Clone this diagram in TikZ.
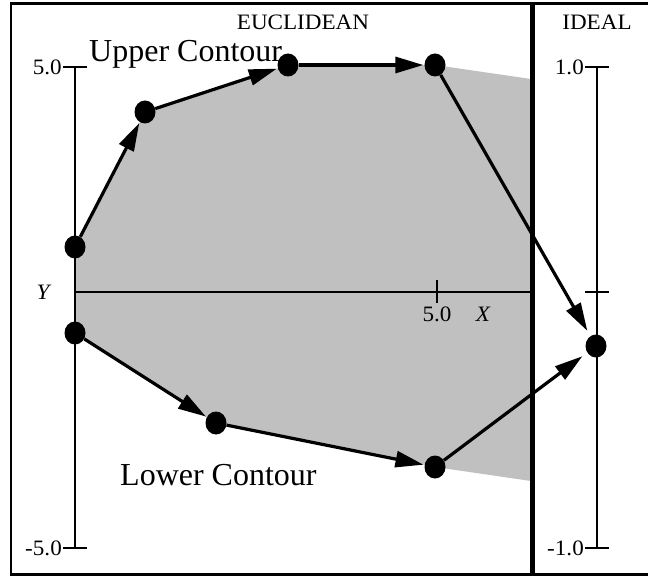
\documentclass[tikz,border=0pt]{standalone}
\usepackage{fontspec}
\setmainfont{Liberation Serif}
\newfontfamily\widefnt[FakeStretch=1.05]{Liberation Serif}
\usetikzlibrary{shapes.geometric,arrows.meta}
\definecolor{regiongray}{RGB}{192,192,192}
\tikzset{
  dot/.style={ellipse,fill=black,minimum width=21pt,minimum height=23pt,inner sep=0pt},
  axis/.style={line width=2pt},
  arr/.style={line width=3.2pt,-{Triangle[length=28pt,width=16pt]},shorten >=1pt},
  lbl/.style={font=\widefnt\fontsize{22}{25}\selectfont,inner sep=0pt},
  big/.style={font=\fontsize{32}{36}\selectfont,inner sep=0pt,anchor=base west},
}
\begin{document}
\begin{tikzpicture}[x=1pt,y=-1pt]
\useasboundingbox (0,0) rectangle (648,580);
% gray region
\fill[regiongray] (75,247) -- (145,112) -- (288,65) -- (435,65) -- (531,79) -- (531,481) -- (435,467) -- (215,423) -- (75,333) -- cycle;
% frame and divider
\draw[line width=2.5pt] (650,3.5) -- (11,3.5) -- (11,574.5) -- (650,574.5);
\draw[line width=5pt] (532,3) -- (532,575);
% axes
\draw[axis] (75,67) -- (75,548);
\draw[axis] (63,67) -- (87,67);
\draw[axis] (63,548) -- (87,548);
\draw[axis] (75,292) -- (532,292);
\draw[axis] (437,280) -- (437,303);
\draw[axis] (597,67) -- (597,548);
\draw[axis] (585,67) -- (609,67);
\draw[axis] (585,292) -- (609,292);
\draw[axis] (585,548) -- (609,548);
% labels
\node[lbl] (t1) at (303,22) {EUCLIDEAN};
\node[lbl] (t2) at (597,22) {IDEAL};
\node[big] (t3) at (89,62) {Upper Contour};
\node[big] (t4) at (120,485) {Lower Contour};
\node[lbl,anchor=east] (a1) at (62,67) {5.0};
\node[lbl,anchor=east] (a2) at (62,548) {-5.0};
\node[lbl,anchor=east] (a3) at (584,67) {1.0};
\node[lbl,anchor=east] (a4) at (584,548) {-1.0};
\node[lbl] (ay) at (43,292) {\itshape Y};
\node[lbl] (ax5) at (437,314) {5.0};
\node[lbl] (ax) at (483,314) {\itshape X};
% points
\node[dot] (p1) at (75,247) {};
\node[dot] (p2) at (145,112) {};
\node[dot] (p3) at (288,65) {};
\node[dot] (p4) at (435,65) {};
\node[dot] (q) at (596,346) {};
\node[dot] (l1) at (75,333) {};
\node[dot] (l2) at (216,423) {};
\node[dot] (l3) at (435,467) {};
% arrows
\draw[arr] (p1) -- (p2);
\draw[arr] (p2) -- (p3);
\draw[arr] (p3) -- (p4);
\draw[arr,shorten >=6pt] (p4) -- (q);
\draw[arr] (l1) -- (l2);
\draw[arr] (l2) -- (l3);
\draw[arr,shorten >=6pt] (l3) -- (q);
\end{tikzpicture}
\end{document}
